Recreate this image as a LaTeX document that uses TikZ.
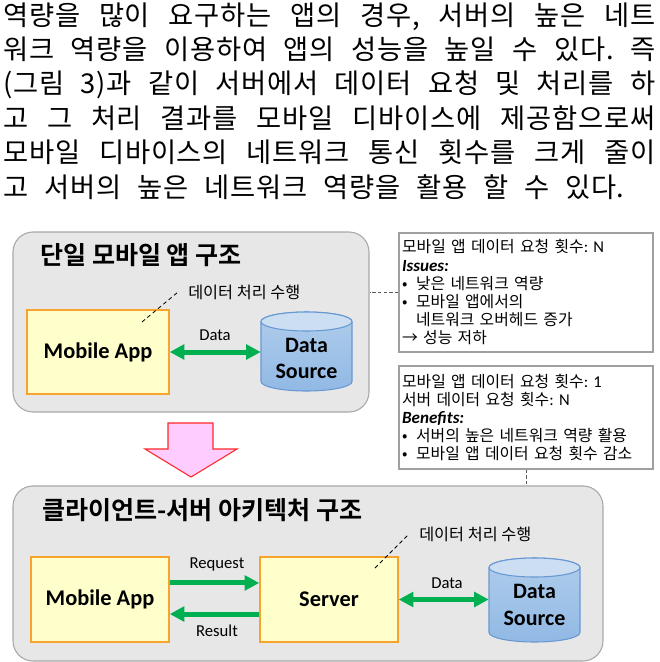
\documentclass[tikz,border=0pt]{standalone}
\usepackage{fontspec}
\setmainfont{Noto Sans CJK KR}[BoldFont={Noto Sans CJK KR Bold}]
\newfontfamily\parafont{Noto Sans CJK KR}[LetterSpace=3]
\newfontfamily\lat{Carlito}
\usetikzlibrary{arrows.meta}
\frenchspacing
\definecolor{boxgray}{RGB}{231,231,231}
\definecolor{boxline}{RGB}{168,168,168}
\definecolor{appfill}{RGB}{255,255,204}
\definecolor{appline}{RGB}{247,163,45}
\definecolor{arrgreen}{RGB}{0,176,80}
\definecolor{cylbodytop}{RGB}{176,205,236}
\definecolor{cylbodybot}{RGB}{145,185,228}
\definecolor{cyltop}{RGB}{204,222,242}
\definecolor{cylline}{RGB}{104,152,210}
\definecolor{pinkfill}{RGB}{255,204,255}
\definecolor{pinkline}{RGB}{255,40,40}
\definecolor{infoline}{RGB}{160,160,160}
\definecolor{linkgray}{RGB}{90,90,90}
\tikzset{
  para/.style={anchor=west, inner sep=0pt, font=\parafont\fontsize{20.5pt}{24pt}\selectfont\frenchspacing, text height=17.6pt, text depth=2.6pt},
  graybox/.style={draw=boxline, fill=boxgray, line width=0.8pt, rounded corners=15pt, inner sep=0pt},
  titletext/.style={anchor=west, inner sep=0pt, font=\bfseries\fontsize{18.8pt}{21pt}\selectfont},
  appbox/.style={draw=appline, fill=appfill, line width=1.1pt, inner sep=0pt, font=\lat\bfseries\fontsize{16.8pt}{19pt}\selectfont},
  dstext/.style={inner sep=0pt, align=center, font=\lat\bfseries\fontsize{16.5pt}{20pt}\selectfont},
  cylbody/.style={draw=cylline, line width=0.8pt, top color=cylbodytop, bottom color=cylbodybot},
  cylend/.style={draw=cylline, line width=0.8pt, fill=cyltop},
  garrow/.style={draw=arrgreen, line width=3.75pt, arrows={-Triangle[length=11pt,width=11pt]}},
  gdarrow/.style={draw=arrgreen, line width=3.75pt, arrows={Triangle[length=11pt,width=11pt]-Triangle[length=11pt,width=11pt]}},
  lbl/.style={inner sep=0pt, font=\lat\fontsize{12.5pt}{14pt}\selectfont},
  captext/.style={anchor=west, inner sep=0pt, inner xsep=7.5pt, font=\fontsize{12.2pt}{14pt}\selectfont},
  callout/.style={draw=black, line width=0.6pt, dash pattern=on 3pt off 2.2pt},
  infobox/.style={draw=infoline, fill=white, line width=0.8pt, inner sep=0pt, inner xsep=2.3pt, minimum width=190.5pt, text width=185.9pt, align=left, font=\fontsize{11.9pt}{13.65pt}\selectfont},
  link/.style={draw=linkgray, line width=0.6pt, dash pattern=on 2.5pt off 1.8pt},
  pinkarrow/.style={draw=pinkline, fill=pinkfill, line width=0.8pt, line join=miter}
}
\newcommand{\blt}{\makebox[10.5pt][l]{•}}
\newcommand{\isf}[1]{{\lat\bfseries\itshape\fontsize{12.8pt}{13.65pt}\selectfont #1}}
\newcommand{\lt}[1]{{\lat\fontsize{12.4pt}{13.65pt}\selectfont #1}}
\begin{document}
\begin{tikzpicture}[x=0.75pt,y=0.75pt]
\useasboundingbox (0,0) rectangle (660,-662);

% paragraph
\node[para] (p1) at (3,-15.5) {\spaceskip=0.3em plus 1em\makebox[489pt][s]{역량을 많이 요구하는 앱의 경우, 서버의 높은 네트}};
\node[para] (p2) at (3,-49.5) {\spaceskip=0.3em plus 1em\makebox[489pt][s]{워크 역량을 이용하여 앱의 성능을 높일 수 있다. 즉}};
\node[para] (p3) at (3,-83.5) {\spaceskip=0.3em plus 1em\makebox[489pt][s]{(그림 3)과 같이 서버에서 데이터 요청 및 처리를 하}};
\node[para] (p4) at (3,-118) {\spaceskip=0.3em plus 1em\makebox[489pt][s]{고 그 처리 결과를 모바일 디바이스에 제공함으로써}};
\node[para] (p5) at (3,-152.5) {\spaceskip=0.3em plus 1em\makebox[489pt][s]{모바일 디바이스의 네트워크 통신 횟수를 크게 줄이}};
\node[para] (p6) at (3,-187) {\spaceskip=0.3em plus 1em\makebox[466pt][s]{고 서버의 높은 네트워크 역량을 활용 할 수 있다.}};

% top structure
\node[graybox, minimum width=267pt, minimum height=135pt] (box1) at (191,-322) {};
\node[titletext] (t1) at (40,-255) {단일 모바일 앱 구조};
\node[appbox, minimum width=106.5pt, minimum height=63pt] (mob1) at (98,-352) {Mobile App};
\path[cylbody] (261,-321.5) -- (261,-381.5) arc[start angle=180,end angle=360,x radius=45.5,y radius=9.5] -- (352,-321.5) arc[start angle=0,end angle=180,x radius=45.5,y radius=9.5] -- cycle;
\path[cylend] (306.5,-321.5) ellipse[x radius=45.5,y radius=9.5];
\node[dstext, minimum width=68.25pt] (ds1) at (306.5,-358.5) {Data\\Source};
\draw[gdarrow] (mob1.east) -- (mob1.east -| ds1.west);
\node[lbl] (l1) at (215,-335) {Data};
\coordinate (c1) at (142,-322);
\node[captext] (cap1) at (178,-292) {데이터 처리 수행};
\draw[callout] (c1) -- (cap1.west);

% info boxes
\node[infobox, minimum height=89.25pt] (info1) at (526,-292.5) {모바일 앱 데이터 요청 횟수\lt{: N}\\\isf{Issues:}\\\blt 낮은 네트워크 역량\\\blt 모바일 앱에서의\\\hspace*{10.5pt}네트워크 오버헤드 증가\\→ 성능 저하};
\node[infobox, minimum height=77.25pt] (info2) at (526,-417.5) {모바일 앱 데이터 요청 횟수\lt{: 1}\\서버 데이터 요청 횟수\lt{: N}\\\isf{Benefits:}\\\blt 서버의 높은 네트워크 역량 활용\\\blt 모바일 앱 데이터 요청 횟수 감소};

% pink transition arrow
\draw[pinkarrow] (168,-423) -- (213,-423) -- (213,-449) -- (237,-449) -- (191,-477) -- (145,-449) -- (168,-449) -- cycle;

% bottom structure
\node[graybox, minimum width=442.5pt, minimum height=131.25pt] (box2) at (308,-573.5) {};
\node[titletext] (t2) at (42,-510) {클라이언트-서버 아키텍처 구조};
\node[appbox, minimum width=103.5pt, minimum height=63.75pt] (mob2) at (100,-599.5) {Mobile App};
\node[appbox, minimum width=103.5pt, minimum height=63.75pt] (srv) at (329,-599.5) {Server};
\path[cylbody] (489,-567.5) -- (489,-632.5) arc[start angle=180,end angle=360,x radius=45.5,y radius=9.5] -- (580,-567.5) arc[start angle=0,end angle=180,x radius=45.5,y radius=9.5] -- cycle;
\path[cylend] (534.5,-567.5) ellipse[x radius=45.5,y radius=9.5];
\node[dstext, minimum width=68.25pt] (ds2) at (534.5,-605) {Data\\Source};
\draw[garrow] ([yshift=12.4pt]mob2.east) -- ([yshift=12.4pt]srv.west);
\draw[garrow] ([yshift=-10.9pt]srv.west) -- ([yshift=-10.9pt]mob2.east);
\draw[gdarrow] (srv.east) -- (srv.east -| ds2.west);
\node[lbl] (l2) at (217,-564) {Request};
\node[lbl] (l3) at (217,-631) {Result};
\node[lbl] (l4) at (447,-583) {Data};
\coordinate (c2) at (375,-568);
\node[captext] (cap2) at (409,-534) {데이터 처리 수행};
\draw[callout] (c2) -- (cap2.west);

% links
\draw[link] (info1.west) -- (info1.west -| box1.east);
\draw[link] (info2.south) -- (info2.south |- box2.north);
\end{tikzpicture}
\end{document}
